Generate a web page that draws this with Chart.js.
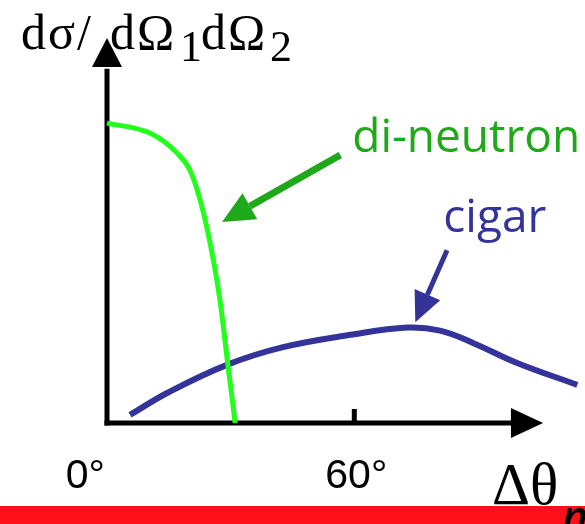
<!DOCTYPE html>
<html>
<head>
<meta charset="utf-8">
<script src="https://cdn.jsdelivr.net/npm/chart.js@4/dist/chart.umd.min.js"></script>
<style>
  html, body { margin: 0; padding: 0; background: #fff; }
  #wrap { width: 585px; height: 524px; position: relative; }
</style>
</head>
<body>
<div id="wrap"><canvas id="crossChart"></canvas></div>
<script>
// Curvas de seção de choque (unidades arbitrárias) em função do ângulo de abertura
const dineutronAngle = [0, 10.4, 17.0, 20.1, 22.6, 25.0, 27.4, 29.4, 31.1];
const dineutronValue = [77.9, 75.3, 70.1, 65.7, 57.9, 46.8, 31.9, 14.5, 0];

const cigarAngle = [5.6, 14.6, 29.1, 42.7, 59.0, 72.8, 80.8, 88.8, 99.5, 114.1];
const cigarValue = [2.1, 7.8, 15.1, 19.7, 22.9, 24.8, 24.0, 20.8, 15.6, 9.9];

// Marcas do eixo x
const tickValues = [0, 60];
const tickLabels = ['0°', '60°'];

// Junta x e y em pontos para o Chart.js
function toPoints(xs, ys) {
  return xs.map((x, i) => ({ x: x, y: ys[i] }));
}

// Desenha uma seta (linha + ponta triangular)
function drawArrow(ctx, x1, y1, x2, y2, color, width, headLen, headHalf) {
  const ang = Math.atan2(y2 - y1, x2 - x1);
  const bx = x2 - headLen * Math.cos(ang);
  const by = y2 - headLen * Math.sin(ang);
  ctx.save();
  ctx.strokeStyle = color;
  ctx.fillStyle = color;
  ctx.lineWidth = width;
  ctx.beginPath();
  ctx.moveTo(x1, y1);
  ctx.lineTo(bx, by);
  ctx.stroke();
  ctx.beginPath();
  ctx.moveTo(x2, y2);
  ctx.lineTo(bx + headHalf * Math.sin(ang), by - headHalf * Math.cos(ang));
  ctx.lineTo(bx - headHalf * Math.sin(ang), by + headHalf * Math.cos(ang));
  ctx.closePath();
  ctx.fill();
  ctx.restore();
}

// Eixos com setas, marcas e rótulos (desenhados antes das curvas)
const axesPlugin = {
  id: 'axesPlugin',
  beforeDatasetsDraw(chart) {
    const ctx = chart.ctx;
    const xs = chart.scales.x;
    const ys = chart.scales.y;
    const x0 = xs.getPixelForValue(0);
    const y0 = ys.getPixelForValue(0);

    ctx.save();
    ctx.strokeStyle = '#000';
    ctx.fillStyle = '#000';
    ctx.lineWidth = 5;
    ctx.lineCap = 'butt';

    // eixo y
    ctx.beginPath();
    ctx.moveTo(x0, y0 + 2.5);
    ctx.lineTo(x0, ys.getPixelForValue(92));
    ctx.stroke();
    const yTip = ys.getPixelForValue(100);
    const yBase = ys.getPixelForValue(92.5);
    ctx.beginPath();
    ctx.moveTo(x0, yTip);
    ctx.lineTo(x0 - 15, yBase);
    ctx.lineTo(x0 + 15, yBase);
    ctx.closePath();
    ctx.fill();

    // eixo x
    ctx.beginPath();
    ctx.moveTo(x0 - 2.5, y0);
    ctx.lineTo(xs.getPixelForValue(98.5), y0);
    ctx.stroke();
    const xTip = xs.getPixelForValue(105.8);
    const xBase = xs.getPixelForValue(98);
    ctx.beginPath();
    ctx.moveTo(xTip, y0);
    ctx.lineTo(xBase, y0 - 15);
    ctx.lineTo(xBase, y0 + 15);
    ctx.closePath();
    ctx.fill();

    // marcas e rótulos do eixo x
    ctx.font = '41px "Liberation Sans", Arial, sans-serif';
    ctx.textBaseline = 'alphabetic';
    tickValues.forEach((v, i) => {
      const px = xs.getPixelForValue(v);
      if (v !== 0) {
        ctx.beginPath();
        ctx.moveTo(px, y0);
        ctx.lineTo(px, y0 - 14);
        ctx.stroke();
        ctx.textAlign = 'center';
        ctx.fillText(tickLabels[i], px + 2, y0 + 65);
      } else {
        ctx.textAlign = 'right';
        ctx.fillText(tickLabels[i], px - 2, y0 + 65);
      }
    });
    ctx.restore();
  },

  afterDraw(chart) {
    const ctx = chart.ctx;
    const xs = chart.scales.x;
    const ys = chart.scales.y;
    ctx.save();

    // título do eixo y: dσ/dΩ1dΩ2
    ctx.fillStyle = '#000';
    ctx.textAlign = 'left';
    ctx.textBaseline = 'alphabetic';
    ctx.letterSpacing = '2px';
    const parts = [
      { t: 'dσ/', x: 21, dy: 0, size: 50 },
      { t: 'dΩ', x: 110, dy: 0, size: 50 },
      { t: '1', x: 180, dy: 12, size: 44 },
      { t: 'dΩ', x: 201, dy: 0, size: 50 },
      { t: '2', x: 270, dy: 12, size: 44 }
    ];
    parts.forEach(p => {
      ctx.font = p.size + 'px "Liberation Serif", "Times New Roman", serif';
      ctx.fillText(p.t, p.x, 49 + p.dy);
    });
    ctx.letterSpacing = '0px';

    // título do eixo x: Δθn
    ctx.font = '59px "Liberation Serif", "Times New Roman", serif';
    ctx.fillText('Δθ', 492, 504);

    // faixa vermelha no rodapé
    ctx.fillStyle = '#ff1019';
    ctx.fillRect(0, 506, chart.width, 18);
    ctx.fillStyle = '#000';
    ctx.font = 'italic 600 44px "Open Sans", sans-serif';
    ctx.fillText('n', 562, 532);

    // rótulos das curvas com setas
    ctx.font = '46px "Open Sans", sans-serif';
    ctx.fillStyle = '#1fa81a';
    ctx.fillText('di-neutron', xs.getPixelForValue(59.5), ys.getPixelForValue(70.4));
    drawArrow(ctx,
      xs.getPixelForValue(56.6), ys.getPixelForValue(69.6),
      xs.getPixelForValue(27.9), ys.getPixelForValue(52.2),
      '#1fa81a', 7, 32, 15);

    ctx.fillStyle = '#333399';
    ctx.fillText('cigar', xs.getPixelForValue(81.6), ys.getPixelForValue(49.6));
    drawArrow(ctx,
      xs.getPixelForValue(82.5), ys.getPixelForValue(44.9),
      xs.getPixelForValue(74.8), ys.getPixelForValue(26.2),
      '#333399', 5, 30, 14);

    ctx.restore();
  }
};

const ctx = document.getElementById('crossChart').getContext('2d');
const crossChart = new Chart(ctx, {
  type: 'scatter',
  data: {
    datasets: [{
      label: 'di-neutron',
      data: toPoints(dineutronAngle, dineutronValue),
      showLine: true,
      borderColor: '#22ff1a',
      borderWidth: 5,
      pointRadius: 0,
      cubicInterpolationMode: 'monotone',
      clip: false
    }, {
      label: 'cigar',
      data: toPoints(cigarAngle, cigarValue),
      showLine: true,
      borderColor: '#333399',
      borderWidth: 6,
      pointRadius: 0,
      tension: 0.4,
      clip: false
    }]
  },
  options: {
    responsive: true,
    maintainAspectRatio: false,
    animation: false,
    layout: { padding: { left: 107, right: 4, top: 38, bottom: 101 } },
    plugins: {
      legend: { display: false },
      tooltip: { enabled: false }
    },
    scales: {
      x: { type: 'linear', min: 0, max: 115, display: false },
      y: { type: 'linear', min: 0, max: 100, display: false }
    }
  },
  plugins: [axesPlugin]
});
</script>
</body>
</html>
